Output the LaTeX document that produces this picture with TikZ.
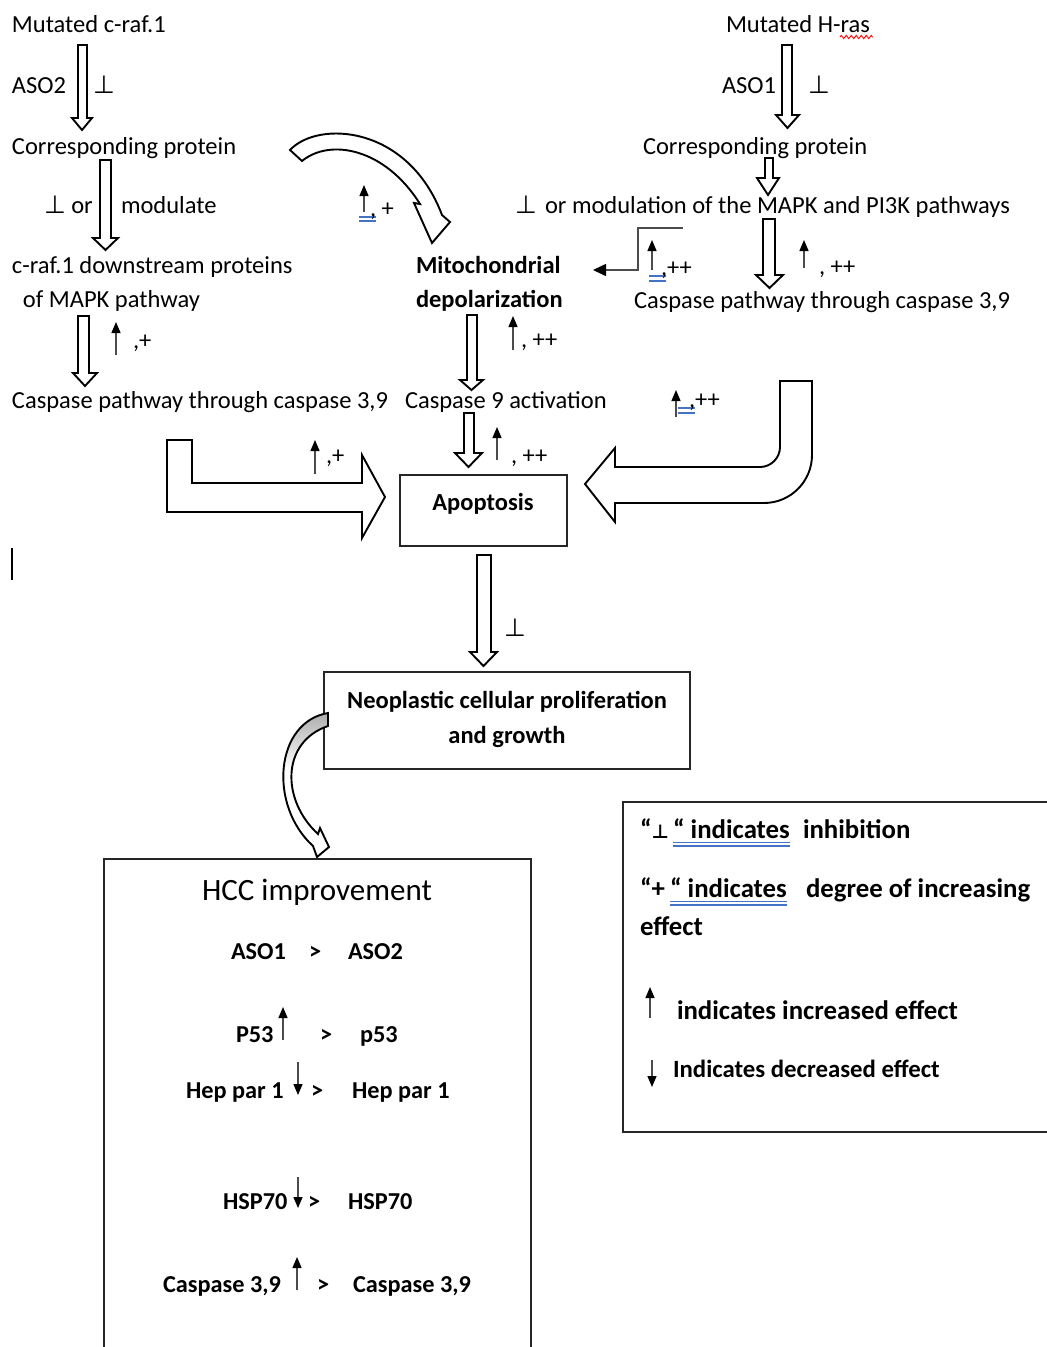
\documentclass[tikz,border=0pt]{standalone}
\usepackage{fontspec}
\setmainfont{Carlito}
\newfontfamily\symf{DejaVu Sans}
\usetikzlibrary{arrows.meta,decorations.pathmorphing}
\definecolor{ulblue}{HTML}{4472C4}
\newcommand{\tack}{{\symf\fontsize{25}{28}\selectfont ⊥}}
\newcommand{\ltack}{{\symf\fontsize{19}{24}\selectfont ⊥}}
\newcommand{\dnblock}[7]{%
  \filldraw[blockarrow] (#1,#3) -- (#2,#3) -- (#2,#6) -- (#5,#6) -- ({(#4+#5)/2},#7) -- (#4,#6) -- (#1,#6) -- cycle;}
\tikzset{
  txt/.style={anchor=base west, inner sep=0pt, outer sep=0pt, font=\fontsize{24.5}{28}\selectfont},
  btxt/.style={anchor=base west, inner sep=0pt, outer sep=0pt, font=\fontsize{24.5}{28}\selectfont\bfseries},
  htxt/.style={anchor=base west, inner sep=0pt, outer sep=0pt, font=\fontsize{24.3}{28}\selectfont\bfseries},
  ltxt/.style={anchor=base west, inner sep=0pt, outer sep=0pt, font=\fontsize{26.8}{31}\selectfont\bfseries},
  blockarrow/.style={draw=black, line width=1.9pt, fill=white, line join=miter},
  sup/.style={draw=black!70, line width=1.3pt, -{Triangle[length=11pt,width=9pt,color=black]}},
  box/.style={draw=black!85, line width=1.5pt},
  ul/.style={draw=ulblue, line width=1.1pt},
  elbow/.style={draw=black!70, line width=1.6pt, -{Triangle[length=13pt,width=12pt,color=black]}}
}
\begin{document}
\begin{tikzpicture}[x=1pt,y=-1pt]
\fill[white] (0,0) rectangle (1047,1347);
\useasboundingbox (0,0) rectangle (1047,1347);

% ---------- left column ----------
\node[txt] (mraf) at (12,32) {Mutated c-raf.1};
\node[txt] (aso2) at (12,93) {ASO2};
\node[txt] (t1) at (93,93) {\tack};
\node[txt] (cp1) at (12,154) {Corresponding protein};
\node[txt] (t2) at (44,213) {\tack\ or};
\node[txt] (mod) at (121,213) {modulate};
\node[txt] (ds1) at (12,273) {c-raf.1 downstream proteins};
\node[txt] (ds2) at (23,307) {of MAPK pathway};
\node[txt] (p1) at (133,348) {,+};
\node[txt] (csp1) at (12,408) {Caspase pathway through caspase 3,9};
\node[txt] (p2) at (326,463) {,+};

\dnblock{78}{87}{45}{72}{92}{118}{130}
\dnblock{100}{111}{160}{93}{118}{238}{250}
\dnblock{78}{89}{316}{73}{97}{373}{386}

\draw[sup] (116,355) -- (116,322);
\draw[sup] (315,474) -- (315,440);

% bent arrow to apoptosis
\filldraw[blockarrow] (167,440) -- (192,440) -- (192,483) -- (362,483) -- (362,455) -- (385,497) -- (362,538) -- (362,512) -- (167,512) -- cycle;

% stray cursor line
\draw[line width=1.2pt] (12,548) -- (12,580);

% ---------- middle ----------
\filldraw[blockarrow] (290,150) .. controls (318,120) and (408,125) .. (442,215) -- (450,222) -- (432,243) -- (414,203) -- (420,204) .. controls (385,148) and (330,138) .. (302,161) -- cycle;
\draw[sup] (364,212) -- (364,185);
\draw[ul] (359,217) -- (376,217);
\draw[ul] (359,221) -- (376,221);
\node[txt] (p3) at (370,216) {, +};

\node[btxt] (mito1) at (416,273) {Mitochondrial};
\node[btxt] (mito2) at (416,307) {depolarization};
\dnblock{467}{477}{315}{460}{483}{380}{390}
\draw[sup] (513,350) -- (513,316);
\node[txt] (p4) at (521,347) {, ++};
\node[txt] (c9) at (405,408) {Caspase 9 activation};
\dnblock{464}{474}{413}{455}{482}{453}{467}
\draw[sup] (497,460) -- (497,427);
\node[txt] (p5) at (511,463) {, ++};

\node[box, minimum width=167pt, minimum height=71pt, inner sep=0pt] (apopbox) at (483.5,510.5) {};
\node[btxt, anchor=base] (apop) at (483,510) {Apoptosis};

\dnblock{477}{491}{555}{470}{497}{652}{666}
\node[txt] (t5) at (504,636) {\tack};

\node[box, minimum width=366pt, minimum height=97pt, inner sep=0pt] (neobox) at (507,720.5) {};
\node[btxt, anchor=base] (neo1) at (507,708) {Neoplastic cellular proliferation};
\node[btxt, anchor=base] (neo2) at (507,743) {and growth};

% curved arrow from neoplastic box to HCC box
\fill[white] (328,713) .. controls (275,722) and (268,805) .. (313,846) -- (317,857) -- (329,847) -- (320,828) -- (318,834) .. controls (281,800) and (281,742) .. (328,726) -- cycle;
\begin{scope}
\clip (328,713) .. controls (275,722) and (268,805) .. (313,846) -- (317,857) -- (329,847) -- (320,828) -- (318,834) .. controls (281,800) and (281,742) .. (328,726) -- cycle;
\shade[top color=black!35, bottom color=white] (260,708) rectangle (340,770);
\end{scope}
\draw[blockarrow, fill=none] (328,713) .. controls (275,722) and (268,805) .. (313,846) -- (317,857) -- (329,847) -- (320,828) -- (318,834) .. controls (281,800) and (281,742) .. (328,726) -- cycle;

% ---------- right column ----------
\node[txt] (hras) at (726,32) {Mutated H-ras};
\draw[red, line width=0.9pt, decorate, decoration={zigzag, amplitude=1.6pt, segment length=5pt}] (840,37) -- (873,37);
\node[txt] (aso1) at (722,93) {ASO1};
\node[txt] (t3) at (808,93) {\tack};
\node[txt] (cp2) at (643,154) {Corresponding protein};
\node[txt] (t4) at (515,213) {\tack};
\node[txt] (modr) at (545,213) {or modulation of the MAPK and PI3K pathways};
\dnblock{782}{792}{45}{776}{799}{115}{128}
\dnblock{765}{773}{158}{757}{779}{178}{195}
\dnblock{763}{775}{219}{756}{783}{275}{288}
\draw[sup] (804,268) -- (804,240);
\node[txt] (p7) at (819,274) {, ++};

\coordinate (elA) at (683,228);
\coordinate (elB) at (593,270);
\draw[elbow] (elA) -- (638,228) -- (638,270) -- (elB);
\draw[sup] (652,270) -- (652,240);
\draw[ul] (649,276) -- (666,276);
\draw[ul] (649,281) -- (666,281);
\node[txt] (p8) at (661,275) {,++};
\node[txt] (csp2) at (634,308) {Caspase pathway through caspase 3,9};

% U-shaped block arrow
\filldraw[blockarrow] (780,381) -- (812,381) -- (812,455) .. controls (812,481.5) and (790.5,503) .. (764,503) -- (615,503) -- (615,522) -- (585,484) -- (615,448) -- (615,467) -- (760,467) .. controls (771,467) and (780,458) .. (780,447) -- cycle;
\draw[sup] (676,417) -- (676,390);
\draw[ul] (678,408) -- (695,408);
\draw[ul] (678,413) -- (695,413);
\node[txt] (p6) at (689,407) {,++};

% ---------- HCC box ----------
\draw[box] (104,1352) -- (104,859) -- (531,859) -- (531,1352);
\node[txt, anchor=base, font=\fontsize{31}{36}\selectfont] (hcc) at (317,900) {HCC improvement};
\node[htxt] (r1a) at (231,959) {ASO1};
\node[htxt] (r1g) at (309,959) {>};
\node[htxt] (r1b) at (348,959) {ASO2};
\node[htxt] (r2a) at (236,1042) {P53};
\draw[sup] (283,1040) -- (283,1007);
\node[htxt] (r2g) at (320,1042) {>};
\node[htxt] (r2b) at (360,1042) {p53};
\node[htxt] (r3a) at (186,1098) {Hep par 1};
\draw[sup] (298,1062) -- (298,1095);
\node[htxt] (r3g) at (311,1098) {>};
\node[htxt] (r3b) at (352,1098) {Hep par 1};
\node[htxt] (r4a) at (223,1209) {HSP70};
\draw[sup] (298,1177) -- (298,1208);
\node[htxt] (r4g) at (308,1209) {>};
\node[htxt] (r4b) at (348,1209) {HSP70};
\node[htxt] (r5a) at (163,1292) {Caspase 3,9};
\draw[sup] (297,1290) -- (297,1257);
\node[htxt] (r5g) at (317,1292) {>};
\node[htxt] (r5b) at (353,1292) {Caspase 3,9};

% ---------- legend ----------
\draw[box] (1052,802) -- (623,802) -- (623,1132) -- (1052,1132);
\node[ltxt] (l1a) at (640,838) {“\ltack};
\node[ltxt] (l1b) at (673,838) {“ indicates};
\node[ltxt] (l1c) at (803,838) {inhibition};
\draw[ul] ([yshift=-4.5pt]l1b.base west) -- ([yshift=-4.5pt]l1b.base east);
\draw[ul] ([yshift=-8pt]l1b.base west) -- ([yshift=-8pt]l1b.base east);
\node[ltxt] (l2a) at (640,897) {“+};
\node[ltxt] (l2b) at (670,897) {“ indicates};
\node[ltxt] (l2c) at (806,897) {degree of increasing};
\draw[ul] ([yshift=-4.5pt]l2b.base west) -- ([yshift=-4.5pt]l2b.base east);
\draw[ul] ([yshift=-8pt]l2b.base west) -- ([yshift=-8pt]l2b.base east);
\node[ltxt] (l2d) at (640,935) {effect};
\draw[sup] (650,1018) -- (650,987);
\node[ltxt] (l3) at (677,1019) {indicates increased effect};
\draw[sup] (652,1060) -- (652,1087);
\node[htxt, font=\fontsize{24.8}{28}\selectfont\bfseries] (l4) at (673,1077) {Indicates decreased effect};
\end{tikzpicture}
\end{document}
